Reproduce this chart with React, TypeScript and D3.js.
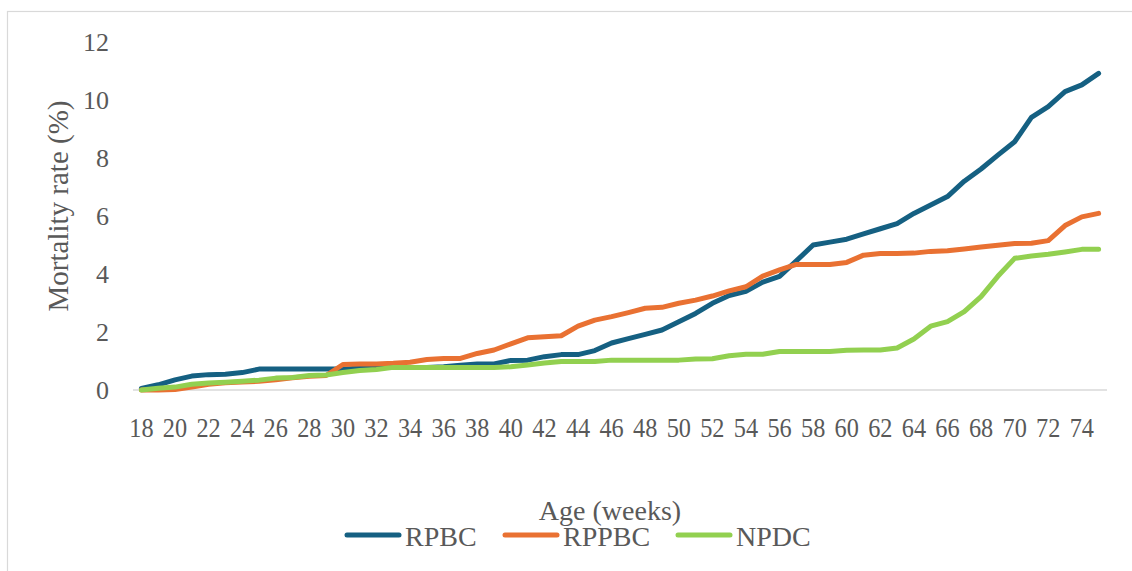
import React from "react";
import * as d3 from "d3";

// Age in weeks (one category per week)
const weeks = [
  18, 19, 20, 21, 22, 23, 24, 25, 26, 27, 28, 29, 30, 31, 32, 33, 34, 35, 36, 37,
  38, 39, 40, 41, 42, 43, 44, 45, 46, 47, 48, 49, 50, 51, 52, 53, 54, 55, 56, 57,
  58, 59, 60, 61, 62, 63, 64, 65, 66, 67, 68, 69, 70, 71, 72, 73, 74, 75,
];

// Cumulative mortality rate (%) per week
const rpbc = [
  0.05, 0.18, 0.35, 0.48, 0.53, 0.54, 0.6, 0.72, 0.72, 0.72, 0.72, 0.72, 0.72, 0.76, 0.78, 0.78, 0.78, 0.78, 0.8, 0.85,
  0.9, 0.9, 1.02, 1.03, 1.15, 1.22, 1.22, 1.36, 1.62, 1.77, 1.92, 2.07, 2.35, 2.64, 2.99, 3.26, 3.4, 3.72, 3.92, 4.45,
  5.0, 5.1, 5.2, 5.38, 5.56, 5.74, 6.09, 6.38, 6.67, 7.2, 7.62, 8.1, 8.56, 9.4, 9.77, 10.29, 10.52, 10.92,
];
const rppbc = [
  0, 0, 0.02, 0.1, 0.2, 0.25, 0.28, 0.3, 0.35, 0.42, 0.47, 0.5, 0.88, 0.9, 0.9, 0.92, 0.96, 1.05, 1.09, 1.09,
  1.26, 1.38, 1.59, 1.8, 1.84, 1.87, 2.2, 2.41, 2.53, 2.67, 2.82, 2.85, 2.99, 3.1, 3.24, 3.42, 3.56, 3.93, 4.14, 4.33,
  4.33, 4.33, 4.4, 4.65, 4.71, 4.71, 4.72, 4.78, 4.8, 4.86, 4.93, 4.99, 5.05, 5.06, 5.15, 5.67, 5.97, 6.09,
];
const npdc = [
  0, 0.06, 0.1, 0.2, 0.24, 0.27, 0.3, 0.34, 0.41, 0.43, 0.5, 0.52, 0.6, 0.67, 0.71, 0.78, 0.78, 0.78, 0.78, 0.78,
  0.78, 0.78, 0.8, 0.86, 0.93, 0.98, 0.98, 0.98, 1.03, 1.03, 1.03, 1.03, 1.03, 1.07, 1.08, 1.18, 1.23, 1.23, 1.33, 1.33,
  1.33, 1.33, 1.37, 1.38, 1.38, 1.45, 1.76, 2.2, 2.36, 2.7, 3.22, 3.92, 4.54, 4.62, 4.68, 4.76, 4.85, 4.85,
];

const seriesNames = ["RPBC", "RPPBC", "NPDC"];
const seriesColors = ["#156082", "#E97132", "#92D050"];
const seriesValues = [rpbc, rppbc, npdc];

const yTicks = [0, 2, 4, 6, 8, 10, 12];
const xTickLabels = [
  18, 20, 22, 24, 26, 28, 30, 32, 34, 36, 38, 40, 42, 44, 46, 48, 50, 52, 54, 56,
  58, 60, 62, 64, 66, 68, 70, 72, 74,
];

const W = 1132;
const H = 571;
const FONT = "'Times New Roman', 'Liberation Serif', serif";
const TEXT = "#595959";

export default function App() {
  const x = d3.scalePoint<number>().domain(weeks).range([133, 1107]).padding(0.5);
  const y = d3.scaleLinear().domain([0, 12]).range([390, 42]);

  const line = d3
    .line<number>()
    .x((_, i) => x(weeks[i]) as number)
    .y((d) => y(d));

  const legendItems = [
    { lx: 347, tx: 405 },
    { lx: 505, tx: 563 },
    { lx: 678, tx: 736 },
  ];

  return (
    <div style={{ position: "absolute", left: 0, top: 0 }}>
      <svg width={W} height={H} style={{ display: "block", background: "#fff" }} fontFamily={FONT}>
        {/* chart frame */}
        <rect x={7.5} y={11.5} width={W + 10} height={H + 10} fill="none" stroke="#d9d9d9" strokeWidth={1.2} />

        {/* category axis line */}
        <line x1={133} x2={1107} y1={y(0)} y2={y(0)} stroke="#d9d9d9" strokeWidth={1.5} />

        {/* value axis labels */}
        {yTicks.map((t) => (
          <text key={t} x={109} y={y(t)} dy="0.35em" textAnchor="end" fontSize={26} fill={TEXT}>
            {t}
          </text>
        ))}

        {/* category axis labels (slightly condensed) */}
        {xTickLabels.map((w) => (
          <text
            key={w}
            transform={`translate(${x(w) as number},437) scale(0.9,1)`}
            textAnchor="middle"
            fontSize={27}
            fill={TEXT}
          >
            {w}
          </text>
        ))}

        {/* series */}
        {seriesValues.map((vals, i) => (
          <path
            key={seriesNames[i]}
            d={line(vals) || ""}
            fill="none"
            stroke={seriesColors[i]}
            strokeWidth={5}
            strokeLinecap="round"
            strokeLinejoin="round"
          />
        ))}

        {/* axis titles */}
        <text
          transform={`translate(68,${206}) rotate(-90)`}
          textAnchor="middle"
          fontSize={29}
          fill={TEXT}
        >
          Mortality rate (%)
        </text>
        <text x={610} y={520} textAnchor="middle" fontSize={28} fill={TEXT}>
          Age (weeks)
        </text>

        {/* legend */}
        {seriesNames.map((name, i) => (
          <g key={name}>
            <line
              x1={legendItems[i].lx}
              x2={legendItems[i].lx + 52}
              y1={535}
              y2={535}
              stroke={seriesColors[i]}
              strokeWidth={5}
              strokeLinecap="round"
            />
            <text x={legendItems[i].tx} y={546} fontSize={28} fill={TEXT}>
              {name}
            </text>
          </g>
        ))}
      </svg>
    </div>
  );
}
